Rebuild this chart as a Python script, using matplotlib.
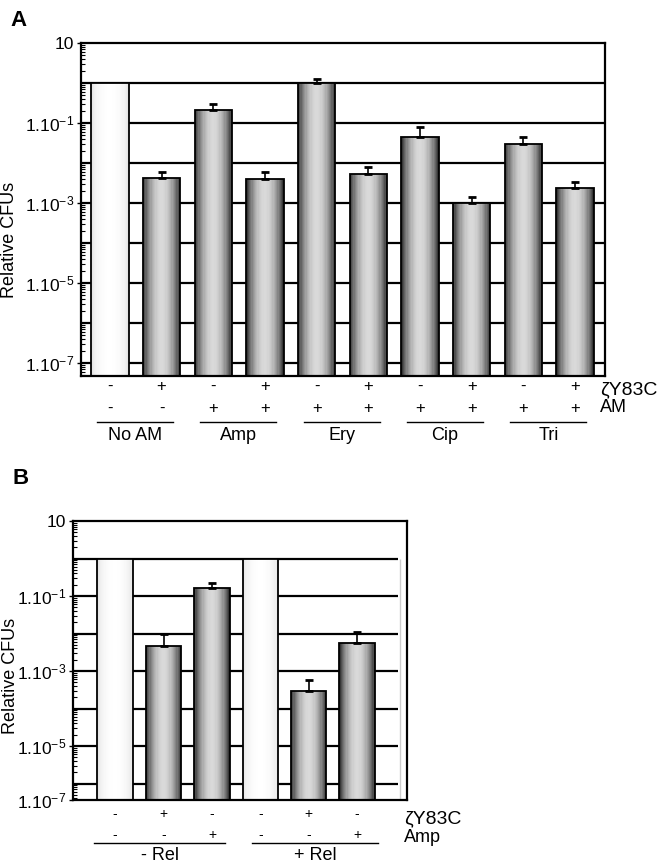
import numpy as np
import matplotlib
matplotlib.use('Agg')
import matplotlib.pyplot as plt
from matplotlib.ticker import FixedLocator, FixedFormatter, LogLocator, NullFormatter

plt.rcParams['font.family'] = ['Liberation Sans', 'DejaVu Sans']
plt.rcParams['mathtext.fontset'] = 'custom'
plt.rcParams['mathtext.rm'] = 'Liberation Sans'
plt.rcParams['mathtext.default'] = 'regular'

# panel A data
a_cfu = [1.0, 4.2e-3, 0.21, 4.0e-3, 1.0, 5.3e-3, 0.045, 1.0e-3, 0.03, 2.4e-3]
a_err = [0, 1.7e-3, 0.09, 1.9e-3, 0.26, 2.6e-3, 0.034, 0.4e-3, 0.015, 0.95e-3]
a_ctrl = [True] + [False] * 9
a_zeta = ['-', '+', '-', '+', '-', '+', '-', '+', '-', '+']
a_am = ['-', '-', '+', '+', '+', '+', '+', '+', '+', '+']
a_groups = ['No AM', 'Amp', 'Ery', 'Cip', 'Tri']

# panel B data
b_cfu = [1.0, 4.6e-3, 0.16, 1.0, 2.9e-4, 5.6e-3]
b_err = [0, 5.2e-3, 0.06, 0, 2.9e-4, 5.4e-3]
b_ctrl = [True, False, False, True, False, False]
b_zeta = ['-', '+', '-', '-', '+', '-']
b_amp = ['-', '-', '+', '-', '-', '+']
b_groups = ['- Rel', '+ Rel']

tick_vals = [10, 1e-1, 1e-3, 1e-5]
tick_txt = ['10', '1.10$^{-1}$', '1.10$^{-3}$', '1.10$^{-5}$']

W, H = 664, 867
fig = plt.figure(figsize=(W / 100, H / 100), dpi=100)


def make_axes(l, t, r, b):
    return fig.add_axes([l / W, 1 - b / H, (r - l) / W, (b - t) / H])


def draw_bars(ax, vals, errs, ctrl, bot, width=0.72):
    n = 30
    t = (np.arange(n) + 0.5) / n
    light = 0.87 + 0.13 * np.sin(np.pi * t) ** 0.5
    dark = 0.15 + 0.70 * np.sin(np.pi * t) ** 0.8
    for i, v in enumerate(vals):
        shade = light if ctrl[i] else dark
        xs = i - width / 2 + t * width
        ax.bar(xs, v - bot, width=width / n * 1.08, bottom=bot,
               color=[(s, s, s) for s in shade], linewidth=0, zorder=2)
    x = np.arange(len(vals))
    ax.bar(x, np.array(vals) - bot, width, bottom=bot, fill=False,
           edgecolor='black', linewidth=1.3, zorder=3)
    for i, (v, e) in enumerate(zip(vals, errs)):
        if e > 0:
            ax.errorbar(i, v, yerr=[[0], [e]], fmt='none', ecolor='black',
                        elinewidth=1.2, capsize=3, capthick=2, zorder=4)


def setup_y(ax, bot, ticks, labels, grid_right):
    ax.set_yscale('log')
    ax.set_ylim(bot, 10)
    ax.yaxis.set_major_locator(FixedLocator(ticks))
    ax.yaxis.set_major_formatter(FixedFormatter(labels))
    ax.yaxis.set_minor_locator(LogLocator(base=10, subs=np.arange(2, 10), numticks=30))
    ax.yaxis.set_minor_formatter(NullFormatter())
    ax.tick_params(axis='y', which='major', direction='out', length=3,
                   width=1, labelsize=12.5, pad=2)
    ax.tick_params(axis='y', which='minor', direction='in', length=3, width=0.8)
    ax.tick_params(axis='x', bottom=False, labelbottom=False)
    for s in ax.spines.values():
        s.set_linewidth(1.6)
    decades = [10.0 ** k for k in range(0, -8, -1) if 10.0 ** k > bot]
    x0 = ax.get_xlim()[0]
    ax.hlines(decades, x0, grid_right, colors='black', linewidth=1.6, zorder=1)


def labels_below(ax, rows, row_y, fs, groups, spans, line_y, grp_y, bot_px, h_px,
                 side, side_fs, side_x, side_y):
    tr = ax.get_xaxis_transform()
    for row, yp in zip(rows, row_y):
        for i, s in enumerate(row):
            ax.text(i, (bot_px - yp) / h_px, s, transform=tr, ha='center',
                    va='center', fontsize=fs, clip_on=False)
    for g, (a, b) in zip(groups, spans):
        ax.plot([a, b], [(bot_px - line_y) / h_px] * 2, color='black',
                linewidth=1.0, transform=tr, clip_on=False)
        ax.text((a + b) / 2, (bot_px - grp_y) / h_px, g, transform=tr,
                ha='center', va='center', fontsize=13)
    for s, f, yp in zip(side, side_fs, side_y):
        ax.text(side_x, (bot_px - yp) / h_px, s, transform=ax.transAxes,
                ha='left', va='center', fontsize=f, clip_on=False)


# ---- panel A ----
axA = make_axes(81, 43, 605, 376)
axA.set_xlim(-0.56, 9.58)
a_bot = 10 ** -7.33
setup_y(axA, a_bot, tick_vals + [1e-7], tick_txt + ['1.10$^{-7}$'], 9.58)
draw_bars(axA, a_cfu, a_err, a_ctrl, a_bot)
a_spans = [(2 * g - 0.25, 2 * g + 1.22) for g in range(len(a_groups))]
labels_below(axA, [a_zeta, a_am], [386, 408], 12, a_groups, a_spans, 422, 436,
             376, 333, ['ζY83C', 'AM'], [14, 13], 0.99, [390, 408])
fig.text(10 / W, 1 - 20 / H, 'A', fontsize=16, fontweight='bold', va='center')
fig.text(10 / W, 1 - 240 / H, 'Relative CFUs', rotation=90, fontsize=13,
         ha='center', va='center')

# ---- panel B ----
axB = make_axes(73, 521, 407, 800)
axB.set_xlim(-0.87, 6.03)
b_bot = 10 ** -6.44
setup_y(axB, b_bot, tick_vals + [b_bot], tick_txt + ['1.10$^{-7}$'], 5.85)
axB.vlines(5.89, b_bot, 1, colors='#cccccc', linewidth=1.0, zorder=1)
draw_bars(axB, b_cfu, b_err, b_ctrl, b_bot, width=0.73)
b_spans = [(-0.43, 2.27), (2.83, 5.43)]
labels_below(axB, [b_zeta, b_amp], [814, 835], 10, b_groups, b_spans, 843, 856,
             800, 279, ['ζY83C', 'Amp'], [14, 13], 0.99, [819, 837])
fig.text(12 / W, 1 - 478 / H, 'B', fontsize=16, fontweight='bold', va='center')
fig.text(11 / W, 1 - 676 / H, 'Relative CFUs', rotation=90, fontsize=13,
         ha='center', va='center')

fig.savefig('out.png', dpi=100)
